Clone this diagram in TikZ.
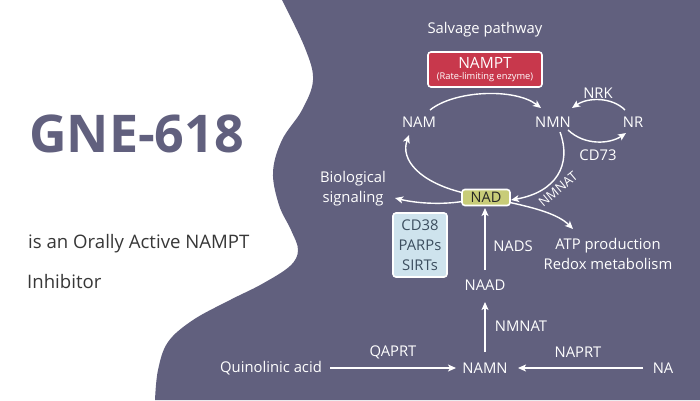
\documentclass[tikz,border=0pt]{standalone}
\usepackage{fontspec}
\setmainfont{Open Sans}
\usetikzlibrary{arrows.meta}
\definecolor{blob}{RGB}{97,96,126}
\definecolor{nred}{RGB}{200,56,76}
\definecolor{nadg}{RGB}{200,204,120}
\definecolor{cdbl}{RGB}{206,227,237}
\definecolor{cdtx}{RGB}{60,78,95}
\definecolor{ttl}{RGB}{55,55,55}
\tikzset{
  lbl/.style={text=white, font=\fontsize{14.8}{20}\selectfont, inner sep=1pt, align=center},
  conn/.style={draw=white, line width=1.4pt, -{Stealth[length=8pt,width=7pt,inset=2pt]}},
  boxw/.style={draw=white, line width=1.6pt, rounded corners=3pt, align=center},
}
\begin{document}
\begin{tikzpicture}[x=1pt,y=-1pt]
\useasboundingbox (0,0) rectangle (700,400);
\fill[white] (0,0) rectangle (700,400);
\fill[blob] (700,0) -- (700,400) -- (155,400)
  -- plot[smooth, tension=0.6] coordinates {(155,400) (158,370) (168,342) (193,320) (230,300) (262,284) (290,266) (298,250) (291,230) (279,205) (273,172) (282,140) (302,110) (313,80) (305,48) (282,0)} -- cycle;

% left texts
\node[anchor=base west, inner sep=0, text=blob, font=\fontsize{52}{60}\selectfont\bfseries] (title) at (29,152) {GNE-618};
\node[anchor=base west, inner sep=0, text=ttl, font=\fontsize{18.6}{22}\selectfont] (sub1) at (28,248) {is an Orally Active NAMPT};
\node[anchor=base west, inner sep=0, text=ttl, font=\fontsize{18.6}{22}\selectfont] (sub2) at (27,288) {Inhibitor};

% diagram nodes
\node[lbl] (salv) at (485,30) {Salvage pathway};
\node[boxw, fill=nred, text=white, minimum width=114pt, minimum height=35pt, inner sep=1pt] (nampt) at (485,69.5)
  {\fontsize{15.5}{16}\selectfont NAMPT\\[-1pt]\fontsize{9.3}{10}\selectfont (Rate-limiting enzyme)};
\node[lbl] (nam) at (419,122) {NAM};
\node[lbl] (nmn) at (553,122) {NMN};
\node[lbl] (nr) at (633,122) {NR};
\node[lbl] (nrk) at (598,93) {NRK};
\node[lbl] (cd73) at (598,155) {CD73};
\node[lbl, rotate=40, font=\fontsize{13}{14}\selectfont] (nmnat1) at (558,189) {NMNAT};
\node[boxw, fill=nadg, text=black!85, minimum width=48pt, minimum height=16pt, inner sep=0pt, font=\fontsize{14.5}{15}\selectfont] (nad) at (486,197.5) {NAD};
\node[lbl] (bio) at (353,189) {Biological\\signaling};
\node[boxw, fill=cdbl, text=cdtx, minimum width=54pt, minimum height=64pt, inner sep=1pt, font=\fontsize{14.8}{20}\selectfont] (cd) at (420,245) {CD38\\PARPs\\SIRTs};
\node[lbl] (atp) at (608,254) {ATP production\\Redox metabolism};
\node[lbl] (nads) at (513,246) {NADS};
\node[lbl] (naad) at (485,285) {NAAD};
\node[lbl] (nmnat2) at (521,326) {NMNAT};
\node[lbl] (namn) at (485,368) {NAMN};
\node[lbl] (qa) at (271,368) {Quinolinic acid};
\node[lbl] (na) at (663,368) {NA};
\node[lbl] (qaprt) at (393,352) {QAPRT};
\node[lbl] (naprt) at (578,352) {NAPRT};

% connectors
\draw[conn] ([shift={(11,-12)}]nam.center) .. controls (455,90) and (515,88) .. ([shift={(-12,-14)}]nmn.center);
\draw[conn] ([shift={(7,10)}]nmn.center) .. controls (572,165) and (556,192) .. ([shift={(25,2.5)}]nad.center);
\draw[conn] ([shift={(-24,-5)}]nad.center) .. controls (420,182) and (400,160) .. ([shift={(-10,13)}]nam.center);
\draw[conn] ([shift={(-24,4)}]nad.center) .. controls (440,205) and (415,203) .. ([shift={(42,9)}]bio.center);
\draw[conn] ([shift={(24,5)}]nad.center) .. controls (535,208) and (558,214) .. ([shift={(-35,-25)}]atp.center);
\draw[conn] ([shift={(-8,-12)}]nr.center) .. controls (612,97) and (588,97) .. ([shift={(19,-14)}]nmn.center);
\draw[conn] ([shift={(15,8)}]nmn.center) .. controls (585,146) and (610,144) .. ([shift={(-7,11)}]nr.center);
\draw[conn] ([shift={(0,-15)}]naad.center) -- ([shift={(-1,10.5)}]nad.center);
\draw[conn] ([shift={(0,-16)}]namn.center) -- ([shift={(0,17)}]naad.center);
\draw[conn] ([shift={(59,0)}]qa.center) -- ([shift={(-29,0)}]namn.center);
\draw[conn] ([shift={(-20,0)}]na.center) -- ([shift={(33,0)}]namn.center);
\end{tikzpicture}
\end{document}
